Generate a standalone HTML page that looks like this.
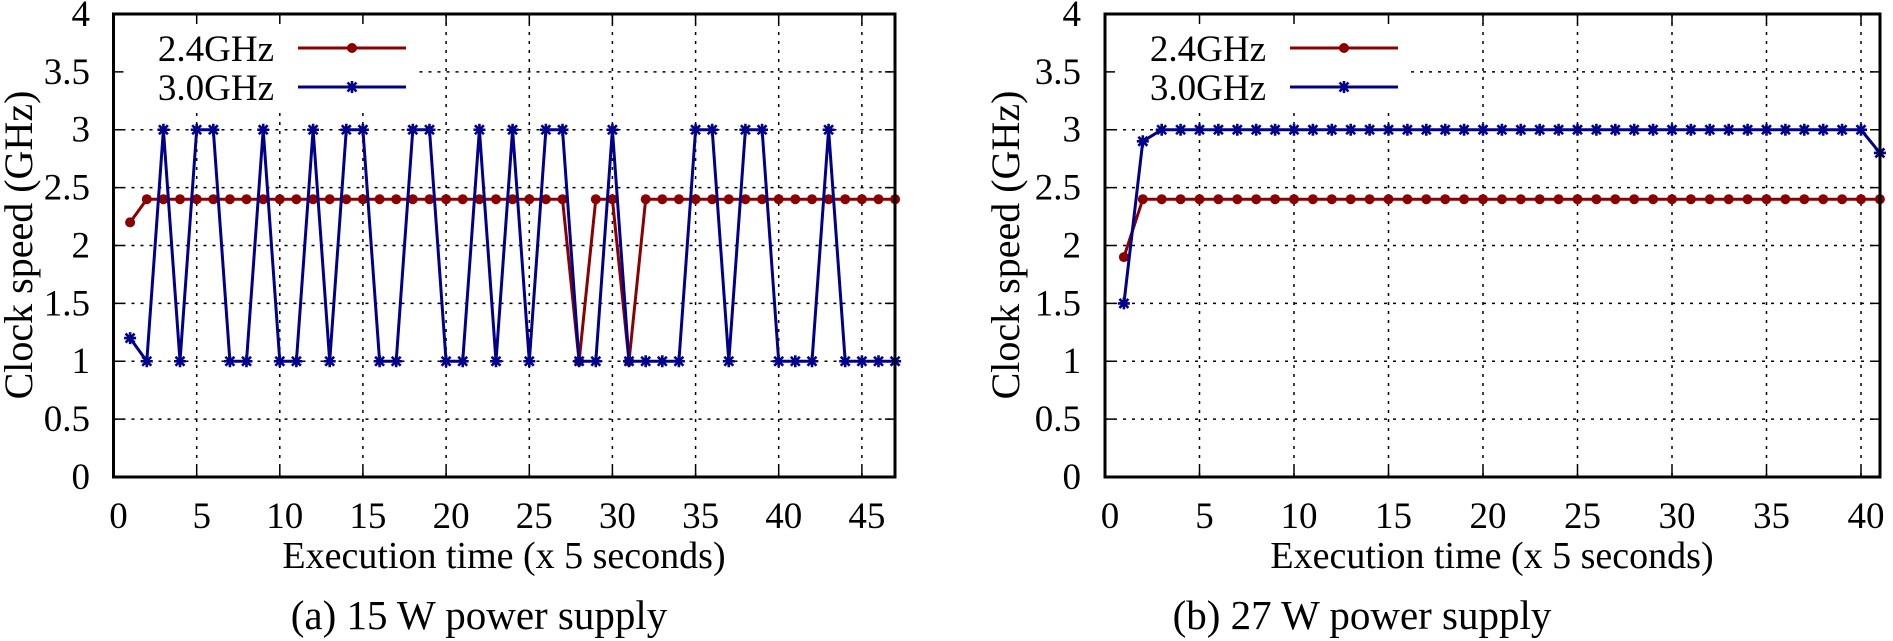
<!DOCTYPE html>
<html><head><meta charset="utf-8"><style>
html,body{margin:0;padding:0;background:#fff;}
svg{display:block;font-family:"Liberation Serif",serif;}
</style></head><body>
<svg width="1893" height="641" viewBox="0 0 1893 641" xmlns="http://www.w3.org/2000/svg">
<defs>
<marker id="dot" markerUnits="userSpaceOnUse" markerWidth="12" markerHeight="12" refX="6" refY="6" overflow="visible"><circle cx="6" cy="6" r="5" fill="#8b0000"/></marker>
<marker id="star" markerUnits="userSpaceOnUse" markerWidth="14" markerHeight="14" refX="7" refY="7" overflow="visible"><path d="M7 1V13M1 7H13M2.5 2.5L11.5 11.5M11.5 2.5L2.5 11.5" stroke="#00008b" stroke-width="2.6" fill="none"/></marker>
</defs>
<g stroke="#000" stroke-width="1.5" stroke-dasharray="3,6" fill="none">
<path d="M196.7 14V477M279.8 14V477M362.9 14V477M446.1 14V477M529.3 14V477M612.4 14V477M695.6 14V477M778.7 14V477M861.9 14V477"/>
<path d="M113.5 419.1H895M113.5 361.25H895M113.5 303.4H895M113.5 245.5H895M113.5 187.6H895M113.5 129.75H895M113.5 71.9H895"/>
<path d="M1199.5 14V477M1294 14V477M1388.5 14V477M1483 14V477M1577.5 14V477M1672 14V477M1766.5 14V477M1861 14V477"/>
<path d="M1105 419.1H1880M1105 361.25H1880M1105 303.4H1880M1105 245.5H1880M1105 187.6H1880M1105 129.75H1880M1105 71.9H1880"/>
</g>
<rect x="115" y="15" width="300" height="92" fill="#fff"/>
<rect x="1107" y="15" width="300" height="92" fill="#fff"/>
<g stroke="#000" stroke-width="1.5" fill="none">
<path d="M113.5 419.1h10M113.5 361.25h10M113.5 303.4h10M113.5 245.5h10M113.5 187.6h10M113.5 129.75h10M113.5 71.9h10M895 419.1h-10M895 361.25h-10M895 303.4h-10M895 245.5h-10M895 187.6h-10M895 129.75h-10M895 71.9h-10"/>
<path d="M196.7 477v-10M279.8 477v-10M362.9 477v-10M446.1 477v-10M529.3 477v-10M612.4 477v-10M695.6 477v-10M778.7 477v-10M861.9 477v-10M196.7 14v10M279.8 14v10M362.9 14v10M446.1 14v10M529.3 14v10M612.4 14v10M695.6 14v10M778.7 14v10M861.9 14v10"/>
<path d="M1105 419.1h10M1105 361.25h10M1105 303.4h10M1105 245.5h10M1105 187.6h10M1105 129.75h10M1105 71.9h10M1880 419.1h-10M1880 361.25h-10M1880 303.4h-10M1880 245.5h-10M1880 187.6h-10M1880 129.75h-10M1880 71.9h-10"/>
<path d="M1199.5 477v-10M1294 477v-10M1388.5 477v-10M1483 477v-10M1577.5 477v-10M1672 477v-10M1766.5 477v-10M1861 477v-10M1199.5 14v10M1294 14v10M1388.5 14v10M1483 14v10M1577.5 14v10M1672 14v10M1766.5 14v10M1861 14v10"/>
</g>
<polyline fill="none" stroke="#8b0000" stroke-width="3" marker-start="url(#dot)" marker-mid="url(#dot)" marker-end="url(#dot)" points="130.1,222.35 146.8,199.2 163.4,199.2 180.0,199.2 196.7,199.2 213.3,199.2 229.9,199.2 246.5,199.2 263.2,199.2 279.8,199.2 296.4,199.2 313.1,199.2 329.7,199.2 346.3,199.2 362.9,199.2 379.6,199.2 396.2,199.2 412.8,199.2 429.5,199.2 446.1,199.2 462.7,199.2 479.4,199.2 496.0,199.2 512.6,199.2 529.3,199.2 545.9,199.2 562.5,199.2 579.1,361.25 595.8,199.2 612.4,199.2 629.0,361.25 645.7,199.2 662.3,199.2 678.9,199.2 695.6,199.2 712.2,199.2 728.8,199.2 745.4,199.2 762.1,199.2 778.7,199.2 795.3,199.2 812.0,199.2 828.6,199.2 845.2,199.2 861.9,199.2 878.5,199.2 895.1,199.2"/>
<polyline fill="none" stroke="#00008b" stroke-width="3" marker-start="url(#star)" marker-mid="url(#star)" marker-end="url(#star)" points="130.1,338.1 146.8,361.25 163.4,129.75 180.0,361.25 196.7,129.75 213.3,129.75 229.9,361.25 246.5,361.25 263.2,129.75 279.8,361.25 296.4,361.25 313.1,129.75 329.7,361.25 346.3,129.75 362.9,129.75 379.6,361.25 396.2,361.25 412.8,129.75 429.5,129.75 446.1,361.25 462.7,361.25 479.4,129.75 496.0,361.25 512.6,129.75 529.3,361.25 545.9,129.75 562.5,129.75 579.1,361.25 595.8,361.25 612.4,129.75 629.0,361.25 645.7,361.25 662.3,361.25 678.9,361.25 695.6,129.75 712.2,129.75 728.8,361.25 745.4,129.75 762.1,129.75 778.7,361.25 795.3,361.25 812.0,361.25 828.6,129.75 845.2,361.25 861.9,361.25 878.5,361.25 895.1,361.25"/>
<polyline fill="none" stroke="#8b0000" stroke-width="3" marker-start="url(#dot)" marker-mid="url(#dot)" marker-end="url(#dot)" points="1123.9,257.1 1142.8,199.2 1161.7,199.2 1180.6,199.2 1199.5,199.2 1218.4,199.2 1237.3,199.2 1256.2,199.2 1275.1,199.2 1294,199.2 1312.9,199.2 1331.8,199.2 1350.7,199.2 1369.6,199.2 1388.5,199.2 1407.4,199.2 1426.3,199.2 1445.2,199.2 1464.1,199.2 1483,199.2 1501.9,199.2 1520.8,199.2 1539.7,199.2 1558.6,199.2 1577.5,199.2 1596.4,199.2 1615.3,199.2 1634.2,199.2 1653.1,199.2 1672,199.2 1690.9,199.2 1709.8,199.2 1728.7,199.2 1747.6,199.2 1766.5,199.2 1785.4,199.2 1804.3,199.2 1823.2,199.2 1842.1,199.2 1861,199.2 1879.9,199.2"/>
<polyline fill="none" stroke="#00008b" stroke-width="3" marker-start="url(#star)" marker-mid="url(#star)" marker-end="url(#star)" points="1123.9,303.4 1142.8,141.3 1161.7,129.75 1180.6,129.75 1199.5,129.75 1218.4,129.75 1237.3,129.75 1256.2,129.75 1275.1,129.75 1294,129.75 1312.9,129.75 1331.8,129.75 1350.7,129.75 1369.6,129.75 1388.5,129.75 1407.4,129.75 1426.3,129.75 1445.2,129.75 1464.1,129.75 1483,129.75 1501.9,129.75 1520.8,129.75 1539.7,129.75 1558.6,129.75 1577.5,129.75 1596.4,129.75 1615.3,129.75 1634.2,129.75 1653.1,129.75 1672,129.75 1690.9,129.75 1709.8,129.75 1728.7,129.75 1747.6,129.75 1766.5,129.75 1785.4,129.75 1804.3,129.75 1823.2,129.75 1842.1,129.75 1861,129.75 1879.9,152.9"/>
<g stroke-width="3" fill="none">
<path d="M298 48H406" stroke="#8b0000"/><path d="M298 87H406" stroke="#00008b"/>
<path d="M1290 48H1398" stroke="#8b0000"/><path d="M1290 87H1398" stroke="#00008b"/>
</g>
<circle cx="352" cy="48" r="5" fill="#8b0000"/><circle cx="1344" cy="48" r="5" fill="#8b0000"/>
<path d="M352 81V93M346 87H358M347.5 82.5L356.5 91.5M356.5 82.5L347.5 91.5M1344 81V93M1338 87H1350M1339.5 82.5L1348.5 91.5M1348.5 82.5L1339.5 91.5" stroke="#00008b" stroke-width="2.6"/>
<g font-size="37" fill="#000" text-anchor="end">
<text x="274" y="61">2.4GHz</text><text x="274" y="100">3.0GHz</text>
<text x="1266" y="61">2.4GHz</text><text x="1266" y="100">3.0GHz</text>
</g>
<rect x="113.5" y="14" width="781.5" height="463" fill="none" stroke="#000" stroke-width="3"/>
<rect x="1105" y="14" width="775" height="463" fill="none" stroke="#000" stroke-width="3"/>
<g font-size="37" fill="#000" text-anchor="end">
<text x="90" y="489">0</text><text x="90" y="431">0.5</text><text x="90" y="373">1</text><text x="90" y="315.5">1.5</text><text x="90" y="257.5">2</text><text x="90" y="199.6">2.5</text><text x="90" y="141.7">3</text><text x="90" y="83.9">3.5</text><text x="90" y="26">4</text>
<text x="1081" y="489">0</text><text x="1081" y="431">0.5</text><text x="1081" y="373">1</text><text x="1081" y="315.5">1.5</text><text x="1081" y="257.5">2</text><text x="1081" y="199.6">2.5</text><text x="1081" y="141.7">3</text><text x="1081" y="83.9">3.5</text><text x="1081" y="26">4</text>
</g>
<g font-size="37" fill="#000" text-anchor="middle">
<text x="118.5" y="528">0</text><text x="201.7" y="528">5</text><text x="284.8" y="528">10</text><text x="367.9" y="528">15</text><text x="451.1" y="528">20</text><text x="534.3" y="528">25</text><text x="617.4" y="528">30</text><text x="700.6" y="528">35</text><text x="783.7" y="528">40</text><text x="866.9" y="528">45</text>
<text x="1110" y="528">0</text><text x="1204.5" y="528">5</text><text x="1299" y="528">10</text><text x="1393.5" y="528">15</text><text x="1488" y="528">20</text><text x="1582.5" y="528">25</text><text x="1677" y="528">30</text><text x="1771.5" y="528">35</text><text x="1866" y="528">40</text>
<text x="504" y="568" font-size="38">Execution time (x 5 seconds)</text>
<text x="1492" y="568" font-size="38">Execution time (x 5 seconds)</text>
<text x="479" y="629" font-size="41">(a) 15 W power supply</text>
<text x="1362" y="629" font-size="41">(b) 27 W power supply</text>
<text transform="translate(32,245) rotate(-90)" font-size="40">Clock speed (GHz)</text>
<text transform="translate(1019,245) rotate(-90)" font-size="40">Clock speed (GHz)</text>
</g>
</svg>
</body></html>
